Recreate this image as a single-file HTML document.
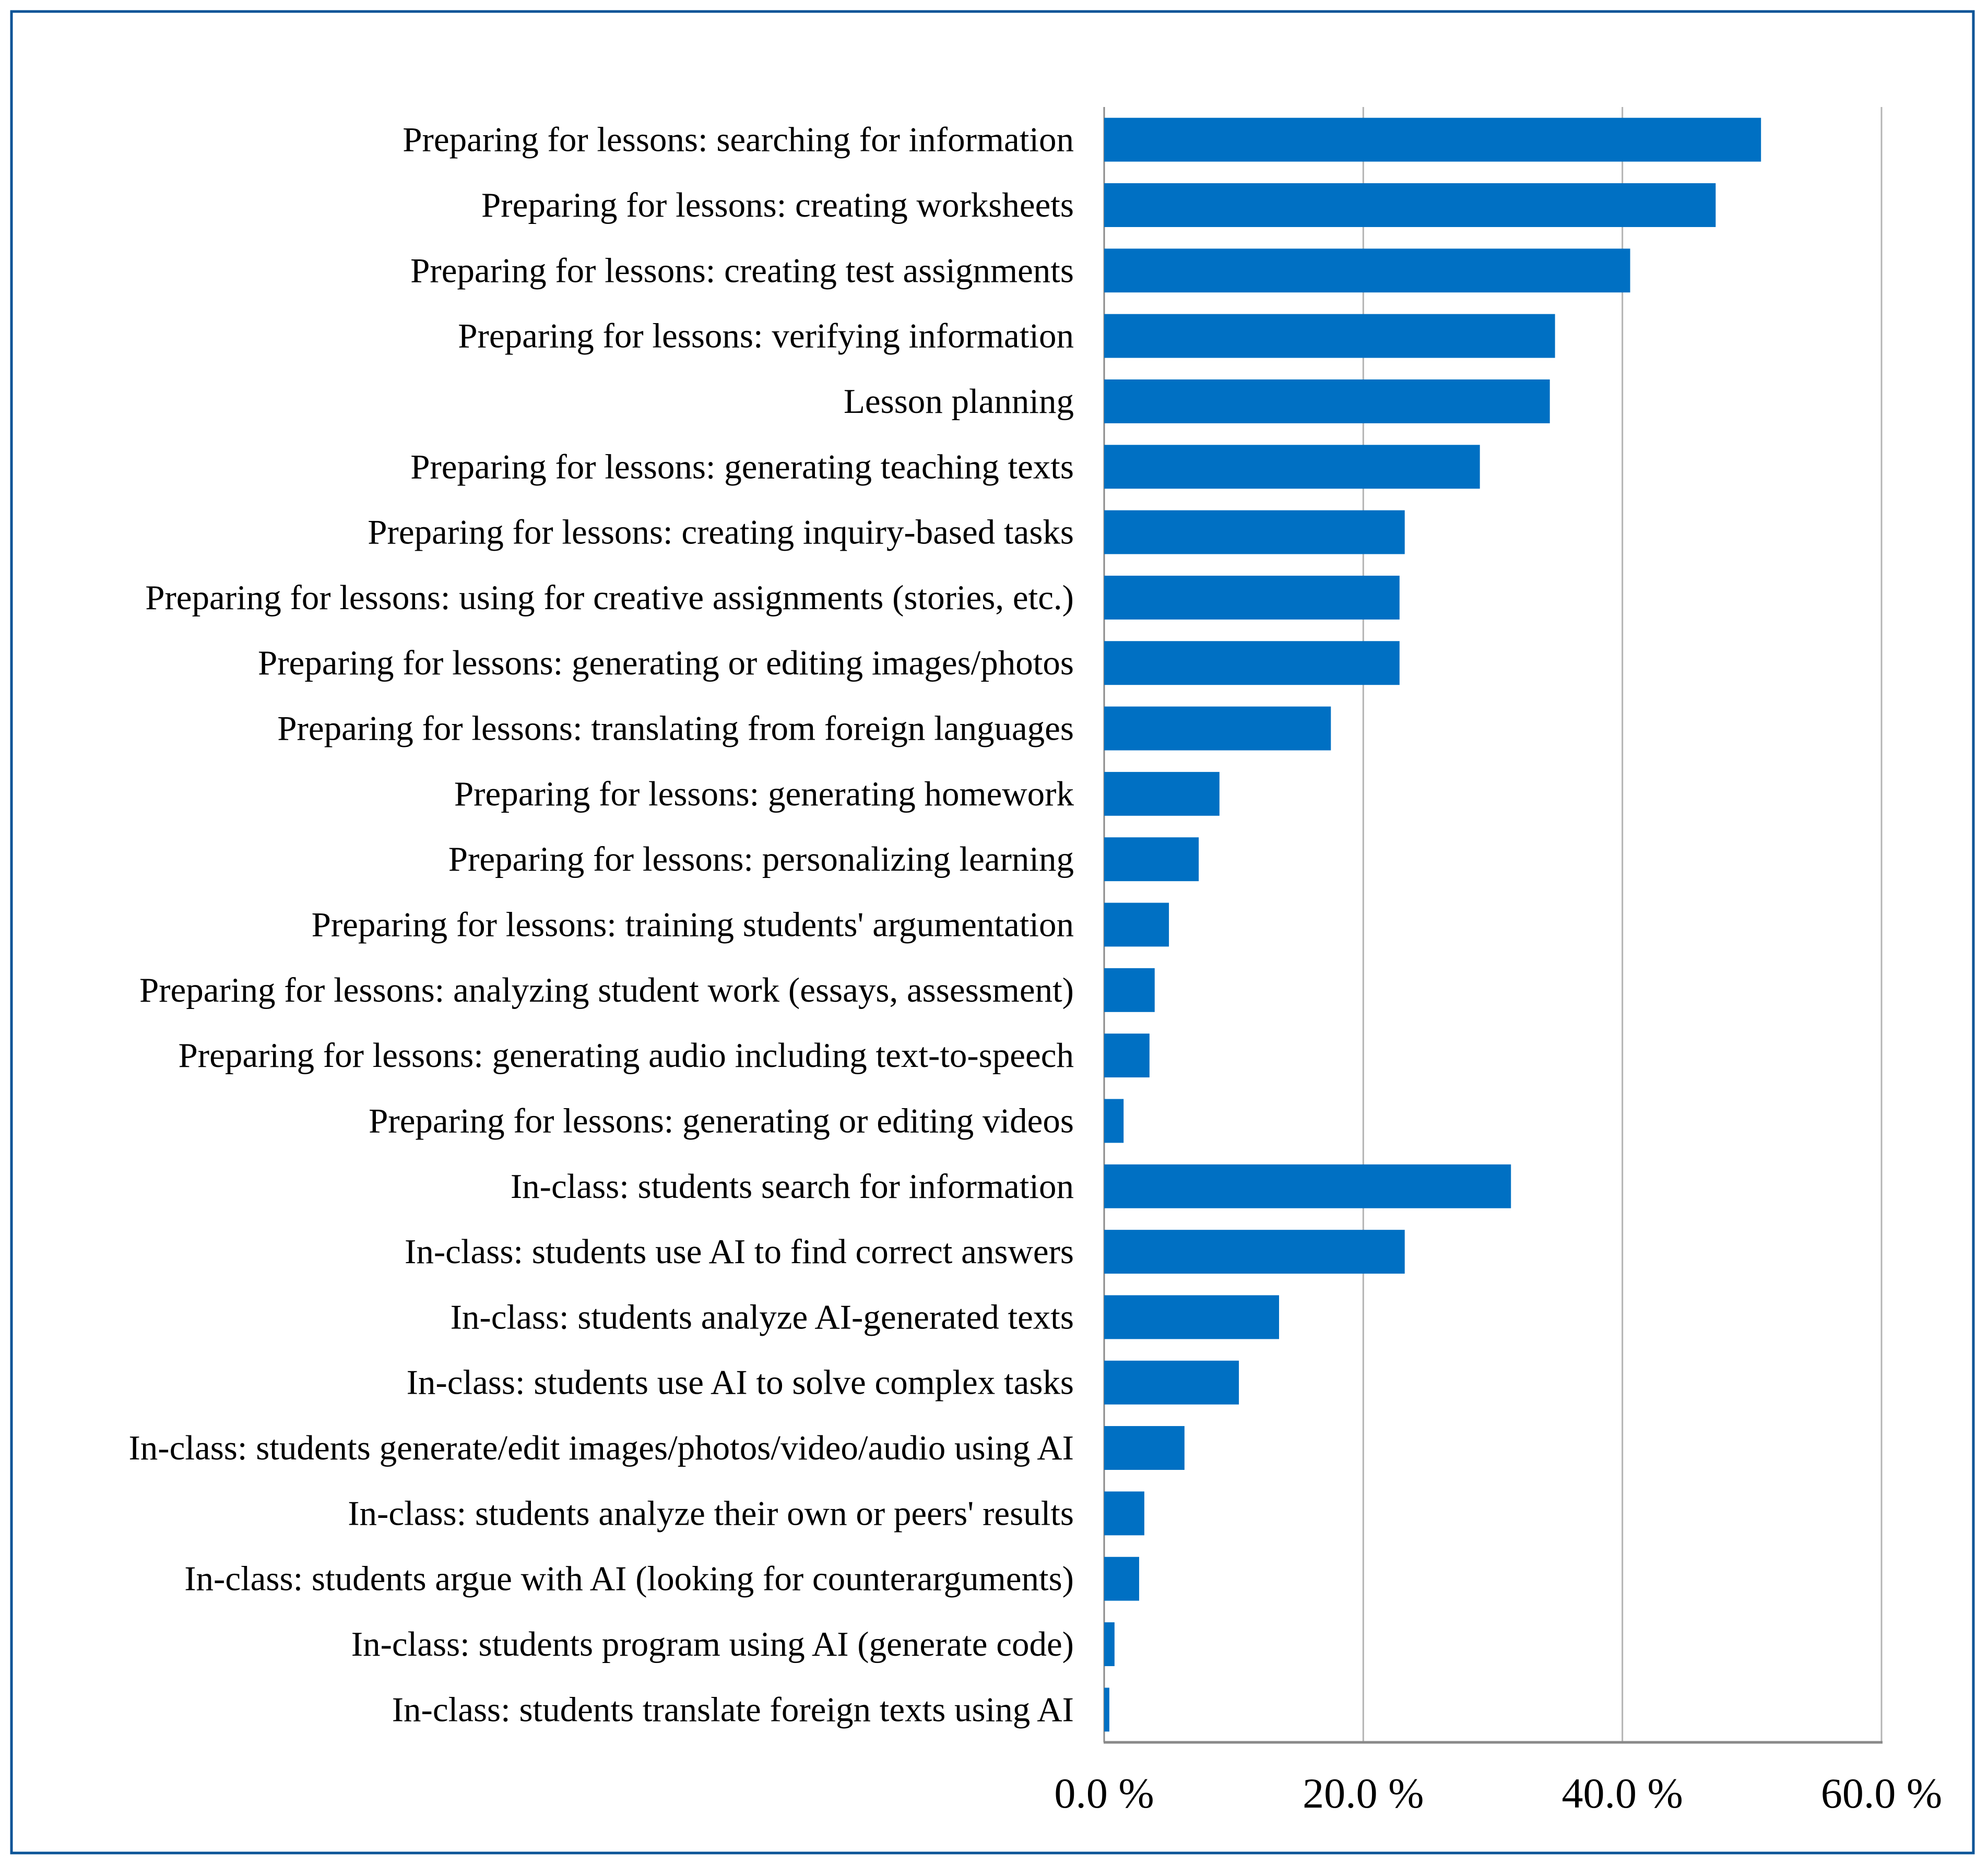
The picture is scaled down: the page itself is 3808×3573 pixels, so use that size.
<!DOCTYPE html>
<html><head><meta charset="utf-8"><style>
html,body{margin:0;padding:0;background:#fff;}
svg{display:block;}
</style></head><body>
<svg id="chart" width="3808" height="3573" viewBox="0 0 3808 3573" xmlns="http://www.w3.org/2000/svg">
<rect x="22" y="22" width="3758" height="3528" fill="#fff" stroke="#0b5497" stroke-width="5"/>
<g id="grid"></g>
<g id="bars"></g>
<g id="labels"></g>
<g id="ticks"></g>
</svg>
<script>
const categories = [
"Preparing for lessons: searching for information",
"Preparing for lessons: creating worksheets",
"Preparing for lessons: creating test assignments",
"Preparing for lessons: verifying information",
"Lesson planning",
"Preparing for lessons: generating teaching texts",
"Preparing for lessons: creating inquiry-based tasks",
"Preparing for lessons: using for creative assignments (stories, etc.)",
"Preparing for lessons: generating or editing images/photos",
"Preparing for lessons: translating from foreign languages",
"Preparing for lessons: generating homework",
"Preparing for lessons: personalizing learning",
"Preparing for lessons: training students' argumentation",
"Preparing for lessons: analyzing student work (essays, assessment)",
"Preparing for lessons: generating audio including text-to-speech",
"Preparing for lessons: generating or editing videos",
"In-class: students search for information",
"In-class: students use AI to find correct answers",
"In-class: students analyze AI-generated texts",
"In-class: students use AI to solve complex tasks",
"In-class: students generate/edit images/photos/video/audio using AI",
"In-class: students analyze their own or peers' results",
"In-class: students argue with AI (looking for counterarguments)",
"In-class: students program using AI (generate code)",
"In-class: students translate foreign texts using AI"
];
const values = [50.7,47.2,40.6,34.8,34.4,29.0,23.2,22.8,22.8,17.5,8.9,7.3,5.0,3.9,3.5,1.5,31.4,23.2,13.5,10.4,6.2,3.1,2.7,0.8,0.4];
const tickValues = [0,20,40,60];
const tickLabels = ["0.0 %","20.0 %","40.0 %","60.0 %"];

const NS="http://www.w3.org/2000/svg";
const x0=2115, x1=3604, plotTop=205, plotBottom=3338, maxV=60;
const xs=v=>x0+(v/maxV)*(x1-x0);
const band=(plotBottom-plotTop)/categories.length;
const yc=i=>plotTop+band*(i+0.5);
function mk(tag,attrs,parent){const e=document.createElementNS(NS,tag);for(const k in attrs)e.setAttribute(k,attrs[k]);parent.appendChild(e);return e;}
const grid=document.getElementById('grid'),bars=document.getElementById('bars'),labels=document.getElementById('labels'),ticks=document.getElementById('ticks');
tickValues.forEach((t,i)=>{
  if(i>0){const l=mk('line',{x1:xs(t),x2:xs(t),y1:plotTop,y2:plotBottom,stroke:'#b4b4b4','stroke-width':3},grid);
  
  }
  const tx=mk('text',{x:xs(t),y:3463,'text-anchor':'middle','font-family':'"Liberation Serif",serif','font-size':82,fill:'#000'},ticks);
  tx.textContent=tickLabels[i];
  
  
});
const va=mk('line',{x1:x0,x2:x0,y1:plotTop,y2:plotBottom,stroke:'#898989','stroke-width':3},grid);


const ha=mk('line',{x1:x0-1,x2:x1+2,y1:plotBottom,y2:plotBottom,stroke:'#898989','stroke-width':5},grid);


const bh=band*0.67;
values.forEach((v,i)=>{
  const r=mk('rect',{x:x0,y:yc(i)-bh/2,width:xs(v)-x0,height:bh,fill:'#0070c3'},bars);
  
  
  const t=mk('text',{x:2057,y:yc(i)+22,'text-anchor':'end','font-family':'"Liberation Serif",serif','font-size':67,fill:'#000'},labels);
  t.textContent=categories[i];
  
  
});
</script>
</body></html>
